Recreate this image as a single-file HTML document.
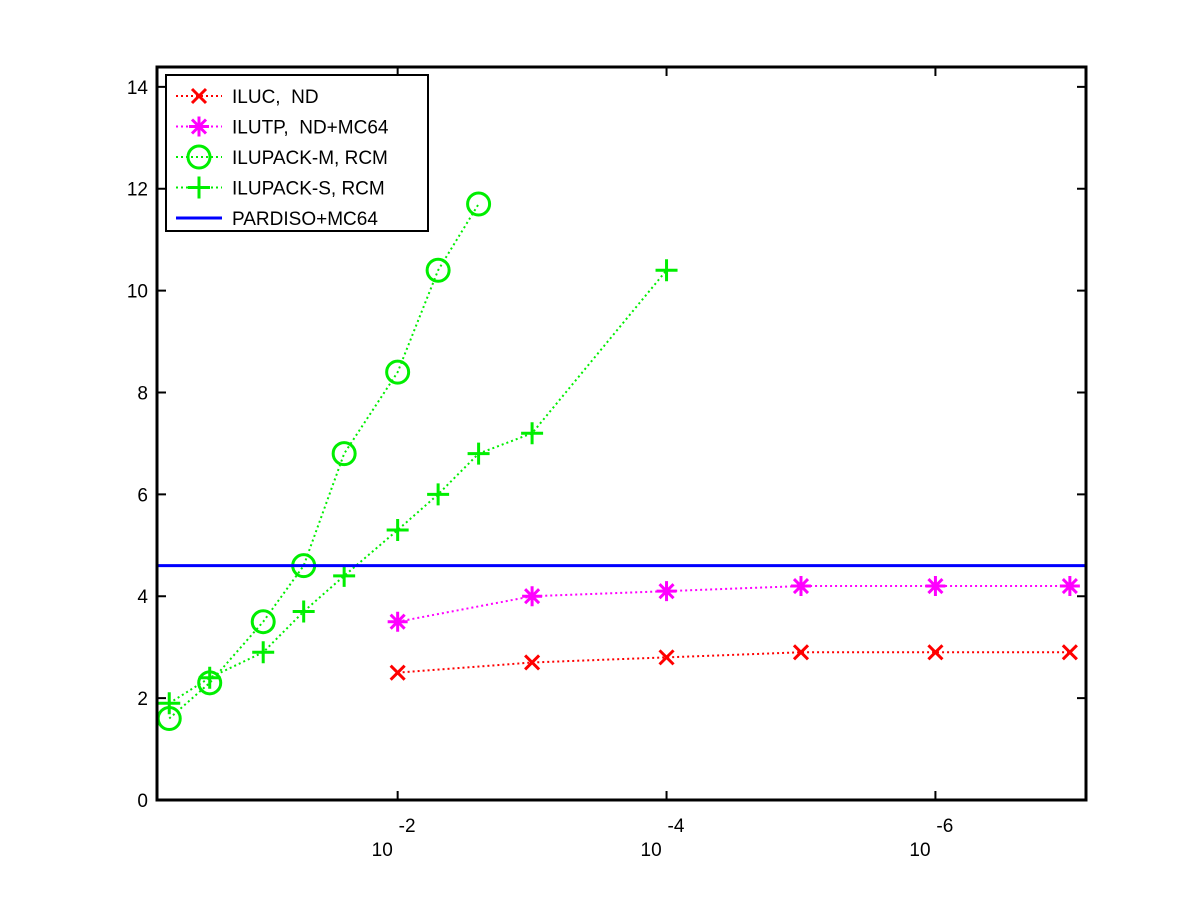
<!DOCTYPE html>
<html><head><meta charset="utf-8"><style>
body{margin:0;background:#fff}
svg{display:block;font-family:"Liberation Sans",sans-serif}
text{white-space:pre}
</style></head><body>
<svg id="chart" width="1200" height="900" xmlns="http://www.w3.org/2000/svg">
<rect width="1200" height="900" fill="#fff"/>
<g id="marks"></g>
<g id="axes"></g>
<g id="legend"></g>
</svg>
<script>
const ilucX=[1e-2,1e-3,1e-4,1e-5,1e-6,1e-7];
const ilucY=[2.5,2.7,2.8,2.9,2.9,2.9];
const ilutpX=[1e-2,1e-3,1e-4,1e-5,1e-6,1e-7];
const ilutpY=[3.5,4.0,4.1,4.2,4.2,4.2];
const mX=[0.5,0.25,0.1,0.05,0.025,0.01,0.005,0.0025];
const mY=[1.6,2.3,3.5,4.6,6.8,8.4,10.4,11.7];
const sX=[0.5,0.25,0.1,0.05,0.025,0.01,0.005,0.0025,0.001,0.0001];
const sY=[1.9,2.4,2.9,3.7,4.4,5.3,6.0,6.8,7.2,10.4];
const pardisoY=4.6;
const yTicks=[0,2,4,6,8,10,12,14];
const xTicks=[-2,-4,-6];
const L=157,R=1086,T=67,B=800;
const X0=-0.21,X1=-7.12,Y0=0,Y1=14.39;
function xs(v){return L+(Math.log10(v)-X0)/(X1-X0)*(R-L);}
function xe(e){return L+(e-X0)/(X1-X0)*(R-L);}
function ys(v){return B-(v-Y0)/(Y1-Y0)*(B-T);}
const NS="http://www.w3.org/2000/svg";
function mk(tag,attrs,parent){const e=document.createElementNS(NS,tag);for(const k in attrs)e.setAttribute(k,attrs[k]);parent.appendChild(e);return e;}
const marks=document.getElementById('marks'),axes=document.getElementById('axes'),leg=document.getElementById('legend');
function marker(type,x,y,color,p){
  const g=mk('g',{stroke:color,'stroke-width':3,fill:'none'},p);
  if(type==='x'){mk('path',{d:`M${x-7},${y-7}L${x+7},${y+7}M${x-7},${y+7}L${x+7},${y-7}`},g);}
  else if(type==='*'){mk('path',{d:`M${x-10},${y}L${x+10},${y}M${x},${y-10}L${x},${y+10}M${x-7},${y-7}L${x+7},${y+7}M${x-7},${y+7}L${x+7},${y-7}`},g);}
  else if(type==='o'){mk('circle',{cx:x,cy:y,r:11},g);}
  else if(type==='+'){mk('path',{d:`M${x-11},${y}L${x+11},${y}M${x},${y-11}L${x},${y+11}`},g);}
  return g;
}
function series(name,xa,ya,color,type){
  const g=mk('g',{},marks);
  
  
  const pts=xa.map((v,i)=>xs(v)+','+ys(ya[i])).join(' ');
  mk('polyline',{points:pts,fill:'none',stroke:color,'stroke-width':2,'stroke-dasharray':'2,3'},g);
  xa.forEach((v,i)=>{const m=marker(type,xs(v),ys(ya[i]),color,g);
    
    });
}
series('iluc-nd-series',ilucX,ilucY,'#ff0000','x');
series('ilutp-series',ilutpX,ilutpY,'#ff00ff','*');
series('ilupack-m-series',mX,mY,'#00ee00','o');
series('ilupack-s-series',sX,sY,'#00ee00','+');
const pl=mk('line',{x1:L,x2:R,y1:ys(pardisoY),y2:ys(pardisoY),stroke:'#0000ff','stroke-width':3},marks);


const box=mk('rect',{x:L,y:T,width:R-L,height:B-T,fill:'none',stroke:'#000','stroke-width':3},axes);


yTicks.forEach(v=>{const y=ys(v);
  mk('line',{x1:L,x2:L+9,y1:y,y2:y,stroke:'#000','stroke-width':2},axes);
  mk('line',{x1:R,x2:R-9,y1:y,y2:y,stroke:'#000','stroke-width':2},axes);
  const t=mk('text',{x:L-9,y:y+7,'text-anchor':'end','font-size':19},axes);t.textContent=v;
  
  
});
xTicks.forEach(e=>{const x=xe(e);
  mk('line',{x1:x,x2:x,y1:B,y2:B-9,stroke:'#000','stroke-width':2},axes);
  mk('line',{x1:x,x2:x,y1:T,y2:T+9,stroke:'#000','stroke-width':2},axes);
  const t=mk('text',{x:x-26,y:856,'font-size':19},axes);t.textContent='10';
  
  
  const s=mk('text',{x:x+1,y:832,'font-size':19},axes);s.textContent=String(e);
  
  
});
mk('rect',{x:166,y:75,width:262,height:156,fill:'#fff',stroke:'#000','stroke-width':2},leg);
const entries=[['ILUC,  ND','#ff0000','x',true],['ILUTP,  ND+MC64','#ff00ff','*',true],['ILUPACK-M, RCM','#00ee00','o',true],['ILUPACK-S, RCM','#00ee00','+',true],['PARDISO+MC64','#0000ff','-',false]];
entries.forEach((en,i)=>{const y=96+i*30.5;
  const g=mk('g',{},leg);
  
  
  if(en[3]){mk('line',{x1:176,x2:222,y1:y,y2:y,stroke:en[1],'stroke-width':2,'stroke-dasharray':'2,3'},g);marker(en[2],199,y,en[1],g);}
  else mk('line',{x1:176,x2:222,y1:y,y2:y,stroke:en[1],'stroke-width':3},g);
  const t=mk('text',{x:232,y:y+7,'font-size':19},g);t.textContent=en[0];
});
</script>
</body></html>
